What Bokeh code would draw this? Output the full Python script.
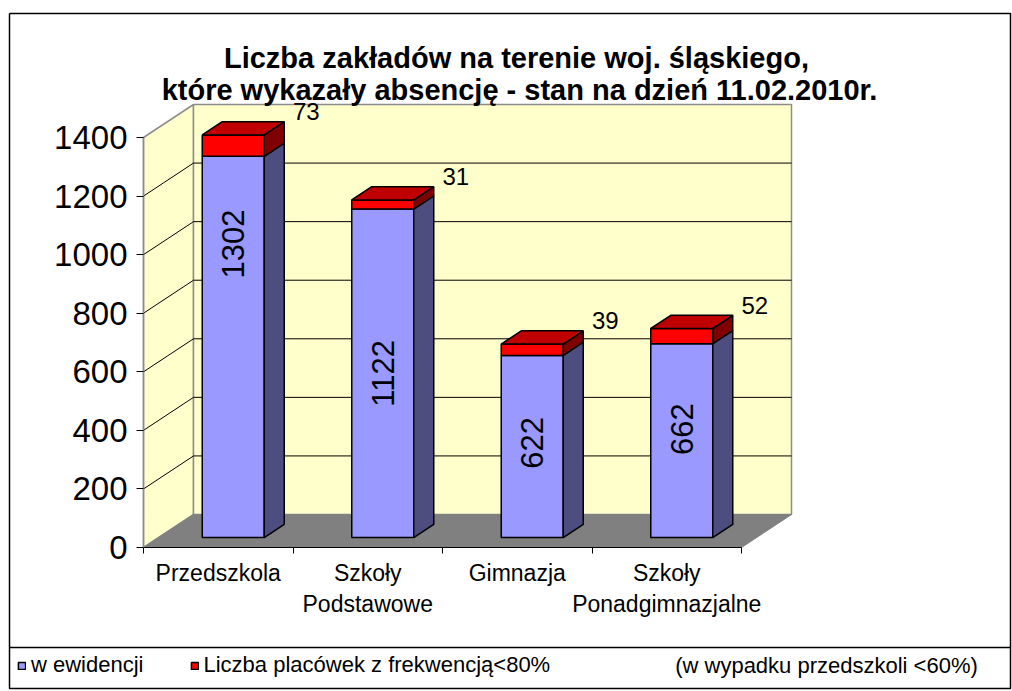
import numpy as np
from bokeh.plotting import figure
from bokeh.models import Range1d, LinearAxis, FixedTicker, Legend, LegendItem
from bokeh.core.properties import value
from bokeh.embed import file_html
from bokeh.resources import INLINE

# ---------------- data ----------------
categories = ["Przedszkola", "Szkoły\nPodstawowe", "Gimnazja", "Szkoły\nPonadgimnazjalne"]
w_ewidencji = [1302, 1122, 622, 662]
frekwencja_ponizej_80 = [73, 31, 39, 52]
y_ticks = [0, 200, 400, 600, 800, 1000, 1200, 1400]
title_lines = ["Liczba zakładów  na terenie woj. śląskiego,",
               "które wykazały absencję - stan na dzień 11.02.2010r."]
series_names = ["w ewidencji", "Liczba placówek z frekwencją<80%"]
legend_note = "(w wypadku przedszkoli <60%)"

# ---------------- layout / style ----------------
W, H = 1012, 690
OFF = 0                       # page offset of the canvas
X0_PX, CAT_PX = 143.0, 149.5  # page x of category 0, px per category
Y0_PX, PX_PER_UNIT = 547.0, 410.0 / 1400.0
FONT = "Liberation Sans"


def X(px):
    return (px - X0_PX) / CAT_PX


def Y(py):
    return (Y0_PX - py) / PX_PER_UNIT


n = len(categories)
ymax = y_ticks[-1]
DX = 50.0 / CAT_PX           # depth offset of the 3D box
DY = 33.0 / PX_PER_UNIT
BAR_HW = 31.0 / CAT_PX
BAR_F, BAR_D = 0.3, 0.4      # bar front position / depth as fraction of box depth
label_frac = [0.77, 0.5, 0.52, 0.56]

p = figure(width=W, height=H, output_backend="svg", toolbar_location=None,
           x_range=Range1d(X(OFF), X(OFF + W)), y_range=Range1d(Y(OFF + H), Y(OFF)),
           x_axis_type=None, y_axis_type=None, min_border=0,
           background_fill_color="white", border_fill_color="white")
p.outline_line_color = None
p.grid.visible = False

# outer border and legend separator
bx0, bx1, by0, by1 = X(9), X(1010), Y(13), Y(688)
p.line([bx0, bx1, bx1, bx0, bx0], [by0, by0, by1, by1, by0], line_color="black", line_width=1.5)
p.line([bx0, bx1], [Y(647), Y(647)], line_color="black", line_width=1.5)

# walls and floor
p.patch([0, DX, DX, 0], [0, DY, ymax + DY, ymax], fill_color="#FFFFCC",
        line_color="#8C8C8C", line_width=1.5)
p.patch([DX, n + DX, n + DX, DX], [DY, DY, ymax + DY, ymax + DY], fill_color="#FFFFCC",
        line_color="#8C8C8C", line_width=1.5)
p.patch([0, n, n + DX, DX], [0, 0, DY, DY], fill_color="#808080", line_color="#808080")

# gridlines
gx, gy = [], []
for t in y_ticks[1:-1]:
    gx.append([0, DX, n + DX])
    gy.append([t, t + DY, t + DY])
p.multi_line(gx, gy, line_color="black", line_width=1)

# bars
ox, oy = BAR_F * DX, BAR_F * DY
bdx, bdy = BAR_D * DX, BAR_D * DY
xc = [i + 0.5 + ox for i in range(n)]
left = [c - BAR_HW for c in xc]
right = [c + BAR_HW for c in xc]
blue_top = [oy + v for v in w_ewidencji]
tot_top = [oy + a + b for a, b in zip(w_ewidencji, frekwencja_ponizej_80)]

blue = p.quad(left=left, right=right, bottom=[oy] * n, top=blue_top,
              fill_color="#9999FF", line_color="black", line_width=1.5)
p.patches([[r, r + bdx, r + bdx, r] for r in right],
          [[oy, oy + bdy, t + bdy, t] for t in blue_top],
          fill_color="#4D4D80", line_color="black", line_width=1.5)
red = p.quad(left=left, right=right, bottom=blue_top, top=tot_top,
             fill_color="#FF0000", line_color="black", line_width=1.5)
p.patches([[r, r + bdx, r + bdx, r] for r in right],
          [[b, b + bdy, t + bdy, t] for b, t in zip(blue_top, tot_top)],
          fill_color="#800000", line_color="black", line_width=1.5)
p.patches([[l, r, r + bdx, l + bdx] for l, r in zip(left, right)],
          [[t, t, t + bdy, t + bdy] for t in tot_top],
          fill_color="#C00000", line_color="black", line_width=1.5)

# value labels
p.text(x=xc, y=[oy + v * f for v, f in zip(w_ewidencji, label_frac)],
       text=[str(v) for v in w_ewidencji], angle=np.pi / 2,
       text_align="center", text_baseline="middle",
       text_font=value(FONT), text_font_size="31px", text_color="black")
p.text(x=[r + bdx for r in right], y=[t + bdy for t in tot_top],
       text=[str(v) for v in frekwencja_ponizej_80], x_offset=22, y_offset=-10,
       text_align="center", text_baseline="middle",
       text_font=value(FONT), text_font_size="24px", text_color="black")

# axes
yax = LinearAxis(fixed_location=0, bounds=(0, ymax), ticker=FixedTicker(ticks=y_ticks),
                 major_tick_out=7, major_tick_in=0, minor_tick_line_color=None,
                 axis_line_color="#8C8C8C", axis_line_width=1.5,
                 major_tick_line_color="black", major_label_standoff=9,
                 major_label_text_font=FONT, major_label_text_font_size="33px",
                 major_label_text_color="black")
p.add_layout(yax, "left")

xax = LinearAxis(fixed_location=0, bounds=(0, n), ticker=FixedTicker(ticks=list(range(n + 1))),
                 major_tick_out=6, major_tick_in=0, minor_tick_line_color=None,
                 axis_line_color="black", axis_line_width=1.2,
                 major_tick_line_color="black", major_label_text_color=None)
p.add_layout(xax, "below")

centers = [i + 0.5 for i in range(n)]
xlab = LinearAxis(fixed_location=0, ticker=FixedTicker(ticks=centers),
                  major_label_overrides={c: cat for c, cat in zip(centers, categories)},
                  axis_line_color=None, major_tick_line_color=None, minor_tick_line_color=None,
                  major_tick_out=0, major_tick_in=0, major_label_standoff=12,
                  major_label_text_font=FONT, major_label_text_font_size="23px",
                  major_label_text_color="black")
p.add_layout(xlab, "below")

# title
p.text(x=[X(520), X(519)], y=[Y(57), Y(89)], text=title_lines,
       text_align="center", text_baseline="alphabetic",
       text_font=value(FONT), text_font_size="29px", text_font_style="bold",
       text_color="black")

# legend
legend = Legend(items=[LegendItem(label=series_names[0], renderers=[blue]),
                       LegendItem(label=series_names[1], renderers=[red])],
                orientation="horizontal", location=(17, 12),
                glyph_width=9, glyph_height=9, label_standoff=5, spacing=46,
                padding=0, margin=0, border_line_color=None, background_fill_alpha=0,
                label_text_font=FONT, label_text_font_size="22px", label_text_color="black")
p.add_layout(legend)
p.text(x=[X(826)], y=[Y(665)], text=[legend_note], text_align="center", text_baseline="middle",
       text_font=value(FONT), text_font_size="22px", text_color="black")

open("out.html", "w").write(file_html(p, INLINE))
